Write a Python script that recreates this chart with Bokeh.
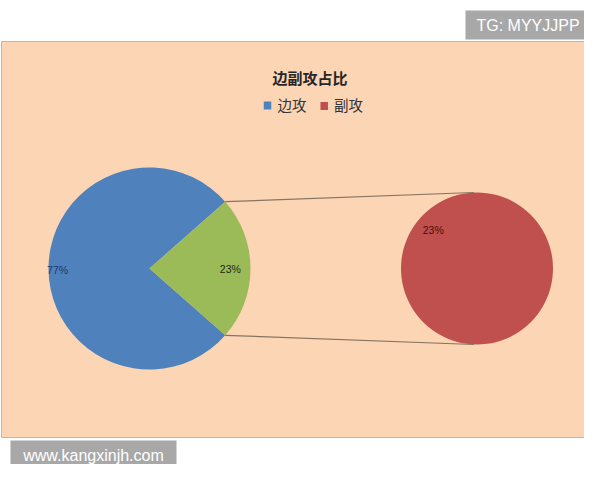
import math
from bokeh.plotting import figure
from bokeh.models import Range1d
from bokeh.core.properties import value
from bokeh.embed import file_html
from bokeh.resources import INLINE

# ---- data ----
title_text = "边副攻占比"
categories = ["边攻", "副攻"]
shares = [77, 23]
legend_colors = ["#4F81BD", "#C0504D"]
other_color = "#9BBB59"
watermark_top = "TG: MYYJJPP"
watermark_bottom = "www.kangxinjh.com"

# ---- layout helpers (reference pixel coords, y downward) ----
PAGE_H = 480


def fy(v):
    return PAGE_H - v


p = figure(width=584, height=464, x_range=Range1d(0, 584), y_range=Range1d(16, 480),
           output_backend="svg", toolbar_location=None, min_border=0,
           x_axis_type=None, y_axis_type=None)
p.grid.visible = False
p.outline_line_color = None
p.background_fill_color = "white"
p.border_fill_color = "white"

# chart area
p.quad(left=[1], right=[598], top=[fy(41)], bottom=[fy(437)],
       fill_color="#FCD5B5", line_color="#C4B5A8", line_width=1)

total = sum(shares)
frac_other = shares[1] / total
half = frac_other * math.pi  # half angle of the split-off slice

# primary pie
cx, cy, r = 149, fy(268), 101
p.wedge(x=[cx], y=[cy], radius=r, start_angle=[half], end_angle=[2 * math.pi - half],
        direction="anticlock", fill_color=legend_colors[0], line_color=None)
p.wedge(x=[cx], y=[cy], radius=r, start_angle=[-half], end_angle=[half],
        direction="anticlock", fill_color=other_color, line_color=None)

# secondary pie
rx, ry, rr = 476.5, fy(268), 76
p.wedge(x=[rx], y=[ry], radius=rr, start_angle=[0], end_angle=[2 * math.pi - 1e-6],
        direction="anticlock", fill_color=legend_colors[1], line_color=None)

# connector lines
tx, ty = cx + r * math.cos(half), cy + r * math.sin(half)
bx, by = cx + r * math.cos(-half), cy + r * math.sin(-half)
p.segment(x0=[tx, bx], y0=[ty, by], x1=[rx - 3, rx - 3], y1=[ry + rr, ry - rr],
          line_color="#857462", line_width=1.2)

# data labels
lab_font = value("Liberation Sans")
p.text(x=[cx - 0.91 * r], y=[cy - 1], text=[f"{shares[0]}%"], text_font=lab_font,
       text_font_size="10.5px", text_align="center", text_baseline="middle",
       text_color="#1F3864")
p.text(x=[cx + 0.80 * r], y=[cy], text=[f"{shares[1]}%"], text_font=lab_font,
       text_font_size="10.5px", text_align="center", text_baseline="middle",
       text_color="#1B2B0B")
ang = math.radians(139)
p.text(x=[rx + 58 * math.cos(ang)], y=[ry + 58 * math.sin(ang)], text=[f"{shares[1]}%"],
       text_font=lab_font, text_font_size="10.5px", text_align="center",
       text_baseline="middle", text_color="#4A0C0C")

# title
p.text(x=[309.5], y=[fy(77)], text=[title_text], text_font=value("Noto Sans CJK SC"),
       text_font_size="15px", text_font_style="bold", text_align="center",
       text_baseline="middle", text_color="#262626")

# legend
leg_sq_x = [267, 323.7]
leg_tx = [277, 333.5]
p.rect(x=leg_sq_x, y=[fy(105), fy(105.5)], width=7.5, height=8,
       fill_color=legend_colors, line_color=None)
p.text(x=leg_tx, y=[fy(103.5)] * 2, text=categories, text_font=value("Noto Sans CJK SC"),
       text_font_size="14.5px", text_align="left", text_baseline="middle",
       text_color="#333333")

# watermark boxes
p.quad(left=[465, 10], right=[590, 176], top=[fy(10), fy(440)], bottom=[fy(39), fy(470)],
       fill_color="#A8A8A8", line_color=None)
p.text(x=[527.5, 93], y=[fy(25), fy(455)], text=[watermark_top, watermark_bottom],
       text_font=value("Liberation Sans"), text_font_size="16px", text_align="center",
       text_baseline="middle", text_color="white")

open("out.html", "w").write(file_html(p, INLINE))
